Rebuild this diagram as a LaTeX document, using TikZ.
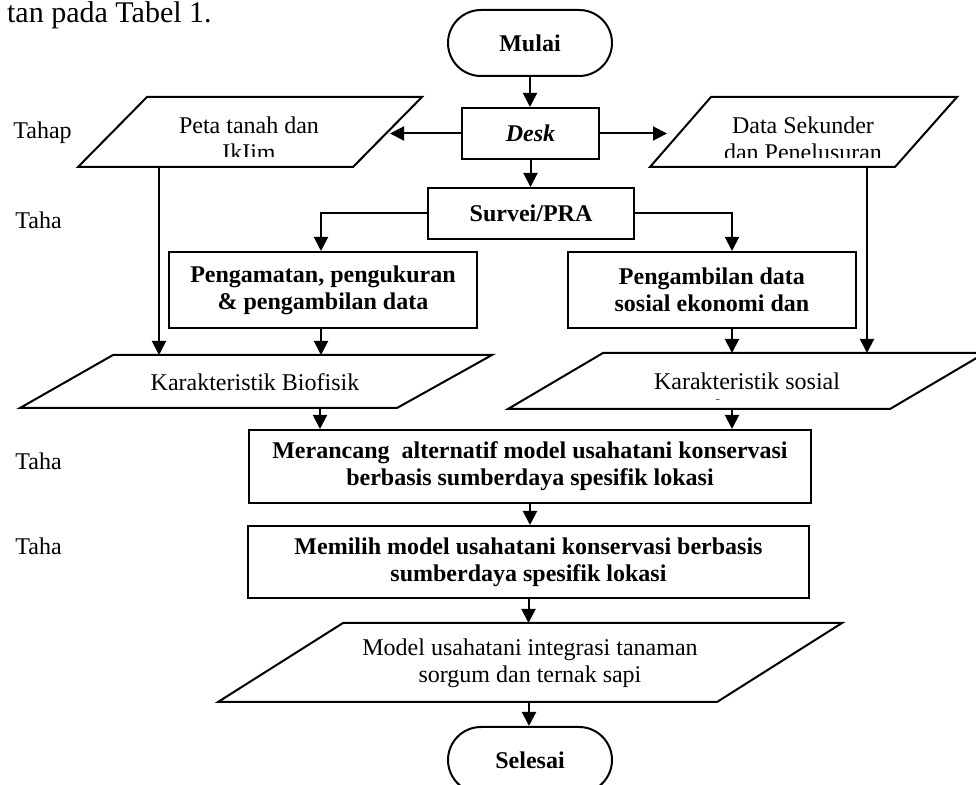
\documentclass[tikz,border=0pt]{standalone}
\usepackage{fontspec}
\setmainfont{Liberation Serif}
\usetikzlibrary{arrows.meta}
\tikzset{
  procbox/.style={draw, line width=1pt, align=center, inner sep=0pt, font=\fontsize{12pt}{13.5pt}\selectfont\bfseries},
  termbox/.style={procbox, rounded corners=16.5pt, minimum width=82pt, minimum height=33pt},
  iotext/.style={align=center, inner sep=0pt, font=\fontsize{12pt}{13.5pt}\selectfont},
  ioshape/.style={draw, line width=1pt, line join=miter},
  conn/.style={line width=1pt, -{Triangle[width=7pt,length=7pt]}},
  sidelbl/.style={anchor=base west, inner sep=0pt, font=\fontsize{12pt}{13.5pt}\selectfont},
}
\begin{document}
\begin{tikzpicture}[x=0.5pt,y=-0.5pt]
\useasboundingbox (0,0) rectangle (976,785);

% page text fragment and side labels
\node[anchor=base east, inner sep=0pt, font=\fontsize{15pt}{18pt}\selectfont] (title) at (212,23) {tan pada Tabel 1.};
\node[sidelbl] (l1) at (13,139) {Tahap};
\node[sidelbl] (l2) at (15,229) {Taha};
\node[sidelbl] (l3) at (15,470) {Taha};
\node[sidelbl] (l4) at (15,555) {Taha};

% process / terminal nodes
\node[termbox] (mulai) at (530,43) {Mulai};
\node[procbox, minimum width=68.5pt, minimum height=25.5pt] (desk) at (530.5,133.5) {\textit{Desk}};
\node[procbox, minimum width=103pt, minimum height=25.5pt] (survei) at (531,213.5) {Survei/PRA};
\node[procbox, minimum width=154pt, minimum height=38pt] (amat) at (323,290) {Pengamatan, pengukuran\\ \& pengambilan data};
\node[procbox, minimum width=144pt, minimum height=38pt] (ambil) at (712,290) {Pengambilan data\\ sosial ekonomi dan};
\node[procbox, minimum width=281pt, minimum height=36.5pt] (rancang) at (530,466.5) {Merancang\ \ alternatif model usahatani konservasi\\ berbasis sumberdaya spesifik lokasi};
\node[procbox, minimum width=280.5pt, minimum height=36pt] (pilih) at (528.5,562) {Memilih model usahatani konservasi berbasis\\ sumberdaya spesifik lokasi};
\node[termbox] (selesai) at (530,760) {Selesai};

% parallelogram: Peta tanah dan Iklim
\draw[ioshape] (147,97) coordinate (petaTL) -- (422,97) -- (353,167) -- (78,167) -- cycle;
\begin{scope}
\clip (78,97) rectangle (422,157);
\node[iotext] (peta) at (249,138.5) {Peta tanah dan\\ IkIim};
\end{scope}
\coordinate (petaE) at (390,133.5);
\coordinate (petaB) at (159,167);

% parallelogram: Data Sekunder
\draw[ioshape] (711,97) coordinate (dataTL) -- (957,97) -- (895,167) -- (650,167) -- cycle;
\begin{scope}
\clip (650,97) rectangle (957,158);
\node[iotext] (data) at (803,138.5) {Data Sekunder\\ dan Penelusuran};
\end{scope}
\coordinate (dataW) at (667,133.5);
\coordinate (dataB) at (867,167);

% parallelogram: Karakteristik Biofisik
\draw[ioshape] (113,355) coordinate (bioTL) -- (492,355) -- (397,408) -- (20,408) -- cycle;
\node[iotext] (bio) at (255,382) {Karakteristik Biofisik};
\coordinate (bioOut) at (320,408);

% parallelogram: Karakteristik sosial
\draw[ioshape] (603,353) coordinate (sosTL) -- (985,353) -- (890,409) -- (508,409) -- cycle;
\begin{scope}
\clip (508,353) rectangle (985,400);
\node[iotext] (sos) at (747,394.5) {Karakteristik sosial\\ ekonomi};
\end{scope}
\coordinate (sosOut) at (732,409);

% parallelogram: Model
\draw[ioshape] (343,623) coordinate (modelTL) -- (842,623) -- (717,702) -- (218,702) -- cycle;
\node[iotext] (model) at (530,663.5) {Model usahatani integrasi tanaman\\ sorgum dan ternak sapi};
\coordinate (modelOut) at (529,702);

% connectors
\draw[conn] (mulai.south) -- (mulai.south |- desk.north);
\draw[conn] (desk.west) -- (petaE);
\draw[conn] (desk.east) -- (dataW);
\draw[conn] (desk.south) -- (desk.south |- survei.north);
\draw[conn] (survei.west) -| ([xshift=-1pt]amat.north);
\draw[conn] (survei.east) -| ([xshift=10pt]ambil.north);
\draw[conn] (petaB) -- (petaB |- bioTL);
\draw[conn] ([xshift=-1pt]amat.south) -- ([xshift=-1pt]amat.south |- bioTL);
\draw[conn] (dataB) -- (dataB |- sosTL);
\draw[conn] ([xshift=10pt]ambil.south) -- ([xshift=10pt]ambil.south |- sosTL);
\draw[conn] (bioOut) -- (bioOut |- rancang.north);
\draw[conn] (sosOut) -- (sosOut |- rancang.north);
\draw[conn] (rancang.south) -- (rancang.south |- pilih.north);
\draw[conn] (pilih.south) -- (pilih.south |- modelTL);
\draw[conn] (modelOut) -- (modelOut |- selesai.north);
\end{tikzpicture}
\end{document}
